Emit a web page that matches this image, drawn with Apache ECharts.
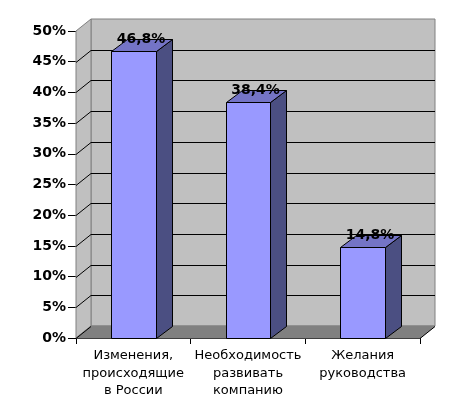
<!DOCTYPE html>
<html>
<head>
<meta charset="utf-8">
<script src="https://cdn.jsdelivr.net/npm/echarts@6/dist/echarts.min.js"></script>
<style>
html,body{margin:0;padding:0;background:#fff;}
#c{width:465px;height:420px;}
</style>
</head>
<body>
<div id="c"></div>
<script>
const categories = ['Изменения,\nпроисходящие\nв России', 'Необходимость\nразвивать\nкомпанию', 'Желания\nруководства'];
const values = [0.468, 0.384, 0.148];
const yTicks = [0, 0.05, 0.10, 0.15, 0.20, 0.25, 0.30, 0.35, 0.40, 0.45, 0.50];

const WDX = 15, WDY = 12;   // wall depth offset
const BDX = 16, BDY = 12;   // bar depth offset
const yMax = yTicks[yTicks.length - 1];

function fmtPct(v) { return (v * 100).toFixed(1).replace('.', ',') + '%'; }

const chart = echarts.init(document.getElementById('c'));
chart.setOption({
  backgroundColor: '#ffffff',
  animation: false,
  grid: { left: 76, top: 31, width: 344, height: 307 },
  xAxis: {
    type: 'category',
    data: categories,
    axisLine: { show: true, lineStyle: { color: '#000', width: 1 } },
    axisTick: { show: true, length: 6, lineStyle: { color: '#000' } },
    axisLabel: {
      interval: 0, margin: 9, color: '#000',
      fontFamily: 'DejaVu Sans', fontSize: 13, lineHeight: 17.5
    },
    splitLine: { show: false }
  },
  yAxis: {
    type: 'value', min: 0, max: yMax, interval: 0.05,
    axisLine: { show: false },
    axisTick: { show: true, length: 8, lineStyle: { color: '#000' } },
    axisLabel: {
      margin: 10, color: '#000', fontFamily: 'DejaVu Sans', fontWeight: 'bold', fontSize: 14,
      formatter: v => Math.round(v * 100) + '%'
    },
    splitLine: { show: false }
  },
  series: [
    {
      type: 'custom',
      z: 1,
      silent: true,
      data: [[0, 0]],
      renderItem: function (params, api) {
        const cs = params.coordSys;
        const L = cs.x, R = cs.x + cs.width, T = cs.y, B = cs.y + cs.height;
        const children = [];
        children.push({ type: 'polygon', shape: { points: [[L + WDX, T - WDY], [R + WDX, T - WDY], [R + WDX, B - WDY], [L + WDX, B - WDY]] },
          style: { fill: '#c0c0c0', stroke: '#808080', lineWidth: 1 } });
        children.push({ type: 'polygon', shape: { points: [[L, T], [L + WDX, T - WDY], [L + WDX, B - WDY], [L, B]] },
          style: { fill: '#c0c0c0', stroke: '#808080', lineWidth: 1 } });
        children.push({ type: 'polygon', shape: { points: [[L, B], [L + WDX, B - WDY], [R + WDX, B - WDY], [R, B]] },
          style: { fill: '#808080', stroke: '#808080', lineWidth: 1 } });
        yTicks.forEach(function (v) {
          if (v >= yMax) return;
          const y = Math.round(api.coord([0, v])[1]) + 0.5;
          if (v > 0) {
            children.push({ type: 'line', shape: { x1: L + WDX, y1: y - WDY, x2: R + WDX, y2: y - WDY }, style: { stroke: '#000', lineWidth: 1 } });
          }
          children.push({ type: 'line', shape: { x1: L, y1: y, x2: L + WDX, y2: y - WDY }, style: { stroke: '#000', lineWidth: 1 } });
        });
        const yb = Math.round(B) + 0.5;
        children.push({ type: 'line', shape: { x1: R, y1: yb, x2: R + WDX, y2: yb - WDY }, style: { stroke: '#000', lineWidth: 1 } });
        return { type: 'group', children: children };
      }
    },
    {
      type: 'custom',
      z: 3,
      data: values.map((v, i) => [i, v]),
      renderItem: function (params, api) {
        const idx = api.value(0), v = api.value(1);
        const top = api.coord([idx, v]);
        const base = api.coord([idx, 0]);
        const bw = api.size([1, 0])[0] * 0.392;
        const x0 = Math.round(top[0] - bw / 2) + 0.5, x1 = Math.round(top[0] + bw / 2) + 0.5;
        const yT = Math.round(top[1]) + 0.5, yB = Math.round(base[1]) + 0.5;
        return {
          type: 'group',
          children: [
            { type: 'polygon', shape: { points: [[x1, yB], [x1 + BDX, yB - BDY], [x1 + BDX, yT - BDY], [x1, yT]] },
              style: { fill: '#4b4f82', stroke: '#000', lineWidth: 1 } },
            { type: 'polygon', shape: { points: [[x0, yT], [x0 + BDX, yT - BDY], [x1 + BDX, yT - BDY], [x1, yT]] },
              style: { fill: '#7474c6', stroke: '#000', lineWidth: 1 } },
            { type: 'rect', shape: { x: x0, y: yT, width: x1 - x0, height: yB - yT },
              style: { fill: '#9999ff', stroke: '#000', lineWidth: 1 } },
            { type: 'text', x: (x0 + x1) / 2 + 7, y: yT - BDY,
              style: { text: fmtPct(v), fill: '#000', fontFamily: 'DejaVu Sans', fontWeight: 'bold', fontSize: 14,
                align: 'center', verticalAlign: 'middle' } }
          ]
        };
      }
    }
  ]
});
</script>
</body>
</html>
